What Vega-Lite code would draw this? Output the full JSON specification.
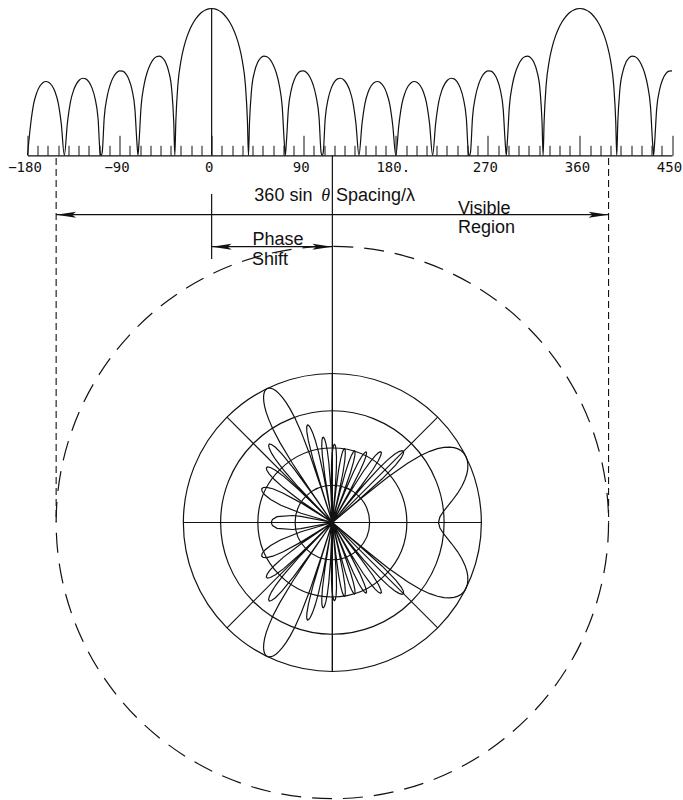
{
"$schema": "https://vega.github.io/schema/vega-lite/v6.json",
"width": 644.5,
"height": 800,
"autosize": {"type": "none"},
"padding": {"left": 27.5, "right": 11, "top": 0, "bottom": 0},
"background": "white",
"config": {"view": {"stroke": null}, "axis": {"grid": false}},
"datasets": {
"af": [
{"p":-180,"db":-40},{"p":-177,"db":-31.74},{"p":-174,"db":-26.01},{"p":-171,"db":-22.98},{"p":-168,"db":-21.2},{"p":-165,"db":-20.23},{"p":-162,"db":-19.89},{"p":-159,"db":-20.15},{"p":-156,"db":-21.06},{"p":-153,"db":-22.77},{"p":-150,"db":-25.72},{"p":-147,"db":-31.38},{"p":-144,"db":-40},
{"p":-141,"db":-31.23},{"p":-138,"db":-25.42},{"p":-135,"db":-22.32},{"p":-132,"db":-20.47},{"p":-129,"db":-19.41},{"p":-126,"db":-19.0},{"p":-123,"db":-19.18},{"p":-120,"db":-20.0},{"p":-117,"db":-21.63},{"p":-114,"db":-24.49},{"p":-111,"db":-30.06},{"p":-109,"db":-39.4},{"p":-108,"db":-40},
{"p":-107,"db":-39.29},{"p":-105,"db":-29.73},{"p":-102,"db":-23.83},{"p":-99,"db":-20.63},{"p":-96,"db":-18.67},{"p":-93,"db":-17.51},{"p":-90,"db":-16.99},{"p":-87,"db":-17.06},{"p":-84,"db":-17.76},{"p":-81,"db":-19.26},{"p":-78,"db":-22.0},{"p":-75,"db":-27.43},{"p":-73,"db":-36.68},{"p":-72,"db":-40},
{"p":-71,"db":-36.47},{"p":-69,"db":-26.8},{"p":-66,"db":-20.74},{"p":-63,"db":-17.37},{"p":-60,"db":-15.23},{"p":-57,"db":-13.87},{"p":-54,"db":-13.14},{"p":-51,"db":-12.98},{"p":-48,"db":-13.44},{"p":-45,"db":-14.67},{"p":-42,"db":-17.11},{"p":-39,"db":-22.21},{"p":-37,"db":-31.22},{"p":-36,"db":-40},
{"p":-35,"db":-30.76},{"p":-33,"db":-20.81},{"p":-30,"db":-14.28},{"p":-27,"db":-10.37},{"p":-24,"db":-7.61},{"p":-21,"db":-5.51},{"p":-18,"db":-3.89},{"p":-15,"db":-2.62},{"p":-12,"db":-1.63},{"p":-9,"db":-0.9},{"p":-6,"db":-0.4},{"p":-3,"db":-0.1},
{"p":0,"db":0},{"p":3,"db":-0.1},{"p":6,"db":-0.4},{"p":9,"db":-0.9},{"p":12,"db":-1.63},{"p":15,"db":-2.62},{"p":18,"db":-3.89},{"p":21,"db":-5.51},{"p":24,"db":-7.61},{"p":27,"db":-10.37},{"p":30,"db":-14.28},{"p":33,"db":-20.81},{"p":35,"db":-30.76},{"p":36,"db":-40},
{"p":37,"db":-31.22},{"p":39,"db":-22.21},{"p":42,"db":-17.11},{"p":45,"db":-14.67},{"p":48,"db":-13.44},{"p":51,"db":-12.98},{"p":54,"db":-13.14},{"p":57,"db":-13.87},{"p":60,"db":-15.23},{"p":63,"db":-17.37},{"p":66,"db":-20.74},{"p":69,"db":-26.8},{"p":71,"db":-36.47},{"p":72,"db":-40},
{"p":73,"db":-36.68},{"p":75,"db":-27.43},{"p":78,"db":-22.0},{"p":81,"db":-19.26},{"p":84,"db":-17.76},{"p":87,"db":-17.06},{"p":90,"db":-16.99},{"p":93,"db":-17.51},{"p":96,"db":-18.67},{"p":99,"db":-20.63},{"p":102,"db":-23.83},{"p":105,"db":-29.73},{"p":107,"db":-39.29},{"p":108,"db":-40},
{"p":109,"db":-39.4},{"p":111,"db":-30.06},{"p":114,"db":-24.49},{"p":117,"db":-21.63},{"p":120,"db":-20.0},{"p":123,"db":-19.18},{"p":126,"db":-19.0},{"p":129,"db":-19.41},{"p":132,"db":-20.47},{"p":135,"db":-22.32},{"p":138,"db":-25.42},{"p":141,"db":-31.23},{"p":144,"db":-40},
{"p":147,"db":-31.38},{"p":150,"db":-25.72},{"p":153,"db":-22.77},{"p":156,"db":-21.06},{"p":159,"db":-20.15},{"p":162,"db":-19.89},{"p":165,"db":-20.23},{"p":168,"db":-21.2},{"p":171,"db":-22.98},{"p":174,"db":-26.01},{"p":177,"db":-31.74},{"p":180,"db":-40},
{"p":183,"db":-31.74},{"p":186,"db":-26.01},{"p":189,"db":-22.98},{"p":192,"db":-21.2},{"p":195,"db":-20.23},{"p":198,"db":-19.89},{"p":201,"db":-20.15},{"p":204,"db":-21.06},{"p":207,"db":-22.77},{"p":210,"db":-25.72},{"p":213,"db":-31.38},{"p":216,"db":-40},
{"p":219,"db":-31.23},{"p":222,"db":-25.42},{"p":225,"db":-22.32},{"p":228,"db":-20.47},{"p":231,"db":-19.41},{"p":234,"db":-19.0},{"p":237,"db":-19.18},{"p":240,"db":-20.0},{"p":243,"db":-21.63},{"p":246,"db":-24.49},{"p":249,"db":-30.06},{"p":251,"db":-39.4},{"p":252,"db":-40},
{"p":253,"db":-39.29},{"p":255,"db":-29.73},{"p":258,"db":-23.83},{"p":261,"db":-20.63},{"p":264,"db":-18.67},{"p":267,"db":-17.51},{"p":270,"db":-16.99},{"p":273,"db":-17.06},{"p":276,"db":-17.76},{"p":279,"db":-19.26},{"p":282,"db":-22.0},{"p":285,"db":-27.43},{"p":287,"db":-36.68},{"p":288,"db":-40},
{"p":289,"db":-36.47},{"p":291,"db":-26.8},{"p":294,"db":-20.74},{"p":297,"db":-17.37},{"p":300,"db":-15.23},{"p":303,"db":-13.87},{"p":306,"db":-13.14},{"p":309,"db":-12.98},{"p":312,"db":-13.44},{"p":315,"db":-14.67},{"p":318,"db":-17.11},{"p":321,"db":-22.21},{"p":323,"db":-31.22},{"p":324,"db":-40},
{"p":325,"db":-30.76},{"p":327,"db":-20.81},{"p":330,"db":-14.28},{"p":333,"db":-10.37},{"p":336,"db":-7.61},{"p":339,"db":-5.51},{"p":342,"db":-3.89},{"p":345,"db":-2.62},{"p":348,"db":-1.63},{"p":351,"db":-0.9},{"p":354,"db":-0.4},{"p":357,"db":-0.1},{"p":360,"db":0},
{"p":363,"db":-0.1},{"p":366,"db":-0.4},{"p":369,"db":-0.9},{"p":372,"db":-1.63},{"p":375,"db":-2.62},{"p":378,"db":-3.89},{"p":381,"db":-5.51},{"p":384,"db":-7.61},{"p":387,"db":-10.37},{"p":390,"db":-14.28},{"p":393,"db":-20.81},{"p":395,"db":-30.76},{"p":396,"db":-40},
{"p":397,"db":-31.22},{"p":399,"db":-22.21},{"p":402,"db":-17.11},{"p":405,"db":-14.67},{"p":408,"db":-13.44},{"p":411,"db":-12.98},{"p":414,"db":-13.14},{"p":417,"db":-13.87},{"p":420,"db":-15.23},{"p":423,"db":-17.37},{"p":426,"db":-20.74},{"p":429,"db":-26.8},{"p":431,"db":-36.47},{"p":432,"db":-40},
{"p":433,"db":-36.68},{"p":435,"db":-27.43},{"p":438,"db":-22.0},{"p":441,"db":-19.26},{"p":444,"db":-17.76},{"p":447,"db":-17.06},{"p":450,"db":-16.99}
],
"polar": [
{"i":1,"x":-16.42,"y":0},{"i":2,"x":-16.07,"y":0.84},{"i":3,"x":-14.84,"y":1.56},{"i":4,"x":-10.65,"y":1.88},{"i":5,"x":-8.46,"y":1.65},{"i":6,"x":0,"y":0},
{"i":7,"x":-8.41,"y":2.48},{"i":8,"x":-13.82,"y":4.63},{"i":9,"x":-16.57,"y":6.17},{"i":10,"x":-18.08,"y":7.38},{"i":11,"x":-18.84,"y":8.32},{"i":12,"x":-18.98,"y":8.99},{"i":13,"x":-18.58,"y":9.39},{"i":14,"x":-17.63,"y":9.44},{"i":15,"x":-15.99,"y":9.05},{"i":16,"x":-13.33,"y":7.93},{"i":17,"x":-8.43,"y":5.27},{"i":18,"x":-0.5,"y":0.32},{"i":19,"x":0,"y":0},
{"i":20,"x":-0.59,"y":0.39},{"i":21,"x":-8.48,"y":5.79},{"i":22,"x":-13.18,"y":9.37},{"i":23,"x":-15.57,"y":11.53},{"i":24,"x":-16.91,"y":13.01},{"i":25,"x":-17.58,"y":14.03},{"i":26,"x":-17.73,"y":14.67},{"i":27,"x":-17.42,"y":14.93},{"i":28,"x":-16.64,"y":14.76},{"i":29,"x":-15.29,"y":14.02},{"i":30,"x":-13.07,"y":12.38},{"i":31,"x":-8.99,"y":8.79},{"i":32,"x":-2.35,"y":2.35},{"i":33,"x":0,"y":0},
{"i":34,"x":-2.47,"y":2.52},{"i":35,"x":-9.14,"y":9.52},{"i":36,"x":-13.13,"y":14.1},{"i":37,"x":-15.17,"y":16.79},{"i":38,"x":-16.33,"y":18.62},{"i":39,"x":-16.94,"y":19.9},{"i":40,"x":-17.11,"y":20.7},{"i":41,"x":-16.91,"y":21.07},{"i":42,"x":-16.33,"y":20.95},{"i":43,"x":-15.29,"y":20.19},{"i":44,"x":-13.56,"y":18.44},{"i":45,"x":-10.34,"y":14.47},{"i":46,"x":-5.04,"y":7.19},{"i":47,"x":0,"y":0},
{"i":48,"x":-5.24,"y":7.61},{"i":49,"x":-10.73,"y":15.91},{"i":50,"x":-14.1,"y":21.51},{"i":51,"x":-15.91,"y":24.99},{"i":52,"x":-17.03,"y":27.55},{"i":53,"x":-17.76,"y":29.57},{"i":54,"x":-18.19,"y":31.19},{"i":55,"x":-18.41,"y":32.53},{"i":56,"x":-18.47,"y":33.63},{"i":57,"x":-18.39,"y":34.5},{"i":58,"x":-18.19,"y":35.18},{"i":59,"x":-17.88,"y":35.67},{"i":60,"x":-17.48,"y":35.98},{"i":61,"x":-16.99,"y":36.1},{"i":62,"x":-16.43,"y":36.03},{"i":63,"x":-15.78,"y":35.77},{"i":64,"x":-15.06,"y":35.29},{"i":65,"x":-14.26,"y":34.55},{"i":66,"x":-13.37,"y":33.54},{"i":67,"x":-12.39,"y":32.19},{"i":68,"x":-11.28,"y":30.36},{"i":69,"x":-9.99,"y":27.9},{"i":70,"x":-8.38,"y":24.32},{"i":71,"x":-6.04,"y":18.21},{"i":72,"x":-2.84,"y":8.79},{"i":73,"x":0,"y":0},
{"i":74,"x":-2.63,"y":8.38},{"i":75,"x":-5.21,"y":17.01},{"i":76,"x":-6.44,"y":21.96},{"i":77,"x":-6.85,"y":24.39},{"i":78,"x":-6.89,"y":25.65},{"i":79,"x":-6.7,"y":26.17},{"i":80,"x":-6.37,"y":26.09},{"i":81,"x":-5.9,"y":25.45},{"i":82,"x":-5.32,"y":24.19},{"i":83,"x":-4.61,"y":22.16},{"i":84,"x":-3.71,"y":18.9},{"i":85,"x":-2.4,"y":12.98},{"i":86,"x":-0.61,"y":3.48},{"i":87,"x":0,"y":0},
{"i":88,"x":-0.55,"y":3.27},{"i":89,"x":-2.0,"y":12.41},{"i":90,"x":-2.67,"y":17.8},{"i":91,"x":-2.84,"y":20.54},{"i":92,"x":-2.8,"y":22.06},{"i":93,"x":-2.63,"y":22.79},{"i":94,"x":-2.39,"y":22.89},{"i":95,"x":-2.08,"y":22.39},{"i":96,"x":-1.74,"y":21.26},{"i":97,"x":-1.36,"y":19.32},{"i":98,"x":-0.96,"y":16.14},{"i":99,"x":-0.49,"y":10.26},{"i":100,"x":-0.03,"y":0.71},{"i":101,"x":0,"y":0},
{"i":102,"x":-0.02,"y":0.6},{"i":103,"x":-0.26,"y":9.94},{"i":104,"x":-0.23,"y":15.51},{"i":105,"x":-0.07,"y":18.37},{"i":106,"x":0.15,"y":20.0},{"i":107,"x":0.39,"y":20.82},{"i":108,"x":0.62,"y":20.99},{"i":109,"x":0.84,"y":20.57},{"i":110,"x":1.01,"y":19.5},{"i":111,"x":1.11,"y":17.64},{"i":112,"x":1.08,"y":14.54},{"i":113,"x":0.75,"y":8.74},{"i":114,"x":0,"y":0},
{"i":115,"x":0.93,"y":8.57},{"i":116,"x":1.69,"y":14.18},{"i":117,"x":2.23,"y":17.08},{"i":118,"x":2.67,"y":18.75},{"i":119,"x":3.01,"y":19.62},{"i":120,"x":3.28,"y":19.84},{"i":121,"x":3.44,"y":19.47},{"i":122,"x":3.48,"y":18.47},{"i":123,"x":3.34,"y":16.69},{"i":124,"x":2.9,"y":13.69},{"i":125,"x":1.8,"y":8.06},{"i":126,"x":0,"y":0},
{"i":127,"x":1.99,"y":8.02},{"i":128,"x":3.52,"y":13.54},{"i":129,"x":4.48,"y":16.42},{"i":130,"x":5.15,"y":18.08},{"i":131,"x":5.64,"y":18.95},{"i":132,"x":5.96,"y":19.21},{"i":133,"x":6.1,"y":18.89},{"i":134,"x":6.03,"y":17.95},{"i":135,"x":5.68,"y":16.27},{"i":136,"x":4.87,"y":13.43},{"i":137,"x":3.03,"y":8.07},{"i":138,"x":0,"y":0},
{"i":139,"x":3.28,"y":8.13},{"i":140,"x":5.62,"y":13.45},{"i":141,"x":7.01,"y":16.23},{"i":142,"x":7.96,"y":17.84},{"i":143,"x":8.62,"y":18.7},{"i":144,"x":9.02,"y":18.96},{"i":145,"x":9.18,"y":18.69},{"i":146,"x":9.04,"y":17.84},{"i":147,"x":8.5,"y":16.28},{"i":148,"x":7.35,"y":13.66},{"i":149,"x":4.82,"y":8.69},{"i":150,"x":0.3,"y":0.52},{"i":151,"x":0,"y":0},
{"i":152,"x":0.36,"y":0.61},{"i":153,"x":5.21,"y":8.85},{"i":154,"x":8.38,"y":13.83},{"i":155,"x":10.26,"y":16.43},{"i":156,"x":11.53,"y":17.94},{"i":157,"x":12.41,"y":18.76},{"i":158,"x":12.95,"y":19.02},{"i":159,"x":13.17,"y":18.78},{"i":160,"x":13.01,"y":18.03},{"i":161,"x":12.37,"y":16.65},{"i":162,"x":10.93,"y":14.3},{"i":163,"x":7.77,"y":9.88},{"i":164,"x":2.08,"y":2.59},{"i":165,"x":0,"y":0},
{"i":166,"x":2.24,"y":2.73},{"i":167,"x":8.46,"y":10.13},{"i":168,"x":12.55,"y":14.61},{"i":169,"x":15.0,"y":16.94},{"i":170,"x":16.7,"y":18.3},{"i":171,"x":17.9,"y":19.03},{"i":172,"x":18.7,"y":19.28},{"i":173,"x":19.11,"y":19.1},{"i":174,"x":19.08,"y":18.47},{"i":175,"x":18.48,"y":17.32},{"i":176,"x":16.96,"y":15.38},{"i":177,"x":13.38,"y":11.73},{"i":178,"x":6.67,"y":5.71},{"i":179,"x":0,"y":0},
{"i":180,"x":7.08,"y":5.93},{"i":181,"x":14.85,"y":12.15},{"i":182,"x":20.2,"y":15.93},{"i":183,"x":23.59,"y":17.92},{"i":184,"x":26.15,"y":19.11},{"i":185,"x":28.23,"y":19.81},{"i":186,"x":29.96,"y":20.16},{"i":187,"x":31.43,"y":20.24},{"i":188,"x":32.69,"y":20.1},{"i":189,"x":33.74,"y":19.76},{"i":190,"x":34.61,"y":19.24},{"i":191,"x":35.32,"y":18.56},{"i":192,"x":35.85,"y":17.74},{"i":193,"x":36.21,"y":16.77},{"i":194,"x":36.37,"y":15.66},{"i":195,"x":36.35,"y":14.41},{"i":196,"x":36.1,"y":13.01},{"i":197,"x":35.58,"y":11.46},{"i":198,"x":34.77,"y":9.74},{"i":199,"x":33.6,"y":7.8},{"i":200,"x":31.98,"y":5.64},{"i":201,"x":29.96,"y":3.15},{"i":202,"x":28.88,"y":1.51},{"i":203,"x":28.49,"y":0}
]
},
"resolve": {"scale": {"x": "independent", "y": "independent", "size": "independent", "shape": "independent"}, "axis": {"x": "independent", "y": "independent"}},
"layer": [
{
"data": {"name": "af"},
"mark": {"type": "line", "interpolate": "monotone", "color": "#111", "strokeWidth": 1.2},
"encoding": {
"x": {"field": "p", "type": "quantitative", "scale": {"domain": [-180, 450], "nice": false, "zero": false},
"axis": {"orient": "top", "offset": -155.3, "values": [-180, -90, 0, 90, 180, 270, 360, 450], "tickSize": 20, "tickColor": "#111", "tickWidth": 1, "domain": true, "domainColor": "#111", "domainWidth": 1.2, "labelFont": "DejaVu Sans Mono", "labelFontSize": 14, "labelColor": "#111", "labelPadding": -32.5, "labelBaseline": "middle", "labelAlign": "center", "labelFlush": false, "labelOverlap": false, "labelOffset": -3, "labelAngle": 0, "labelExpr": "datum.value == 180 ? '180.' : datum.label", "grid": false, "title": null}},
"y": {"field": "db", "type": "quantitative", "scale": {"domain": [-215.67, 2.316], "nice": false, "zero": false}, "axis": null}
}
},
{
"data": {"values": [{}]},
"mark": {"type": "rule", "color": "#111", "strokeWidth": 1.2},
"encoding": {
"x": {"datum": 0, "type": "quantitative", "scale": {"domain": [-180, 450], "nice": false, "zero": false}, "axis": null},
"y": {"datum": 0, "type": "quantitative", "scale": {"domain": [-215.67, 2.316], "nice": false, "zero": false}, "axis": null},
"y2": {"datum": -40}
}
},
{
"data": {"values": [
{"x": 118, "y": 358.86, "x2": 118, "y2": -145.61},
{"x": 0, "y": 321.03, "x2": 0, "y2": 257.51},
{"x": -152, "y": 300.8, "x2": 388, "y2": 300.8},
{"x": 0, "y": 269.53, "x2": 118, "y2": 269.53}
]},
"mark": {"type": "rule", "color": "#111", "strokeWidth": 1.2},
"encoding": {
"x": {"field": "x", "type": "quantitative", "scale": {"domain": [-180, 450], "nice": false, "zero": false},
"axis": {"orient": "top", "offset": -155.3, "values": [-170,-160,-150,-140,-130,-120,-110,-100,-80,-70,-60,-50,-40,-30,-20,-10,10,20,30,40,50,60,70,80,100,110,120,130,140,150,160,170,190,200,210,220,230,240,250,260,280,290,300,310,320,330,340,350,370,380,390,400,410,420,430,440], "tickSize": 10, "tickColor": "#111", "tickWidth": 1, "labels": false, "domain": false, "grid": false, "title": null}},
"y": {"field": "y", "type": "quantitative", "scale": {"domain": [-271.19, 510.62], "nice": false, "zero": false}, "axis": null},
"x2": {"field": "x2"},
"y2": {"field": "y2"}
}
},
{
"data": {"values": [
{"x": -152, "y": 356.2, "x2": -152, "y2": 0},
{"x": 388, "y": 356.2, "x2": 388, "y2": 0}
]},
"mark": {"type": "rule", "color": "#111", "strokeWidth": 1.1, "strokeDash": [7, 4]},
"encoding": {
"x": {"field": "x", "type": "quantitative", "scale": {"domain": [-180, 450], "nice": false, "zero": false}, "axis": null},
"y": {"field": "y", "type": "quantitative", "scale": {"domain": [-271.19, 510.62], "nice": false, "zero": false}, "axis": null},
"x2": {"field": "x2"},
"y2": {"field": "y2"}
}
},
{
"data": {"values": [
{"x": -152, "y": 300.8, "dir": "left"},
{"x": 388, "y": 300.8, "dir": "right"},
{"x": 0, "y": 269.53, "dir": "left"},
{"x": 118, "y": 269.53, "dir": "right"}
]},
"mark": {"type": "point", "filled": true, "size": 100, "color": "#111", "opacity": 1, "strokeWidth": 0},
"encoding": {
"x": {"field": "x", "type": "quantitative", "scale": {"domain": [-180, 450], "nice": false, "zero": false}, "axis": null},
"y": {"field": "y", "type": "quantitative", "scale": {"domain": [-271.19, 510.62], "nice": false, "zero": false}, "axis": null},
"shape": {"field": "dir", "type": "nominal", "scale": {"domain": ["left", "right"], "range": ["M0,0L4,-0.6L3.2,0L4,0.6Z", "M0,0L-4,-0.6L-3.2,0L-4,0.6Z"]}, "legend": null}
}
},
{
"data": {"values": [
{"t": "Spacing/λ", "x": 121.47, "y": 319.3},
{"t": "Visible", "x": 240.7, "y": 306.6},
{"t": "Region", "x": 240.7, "y": 288.0}
]},
"mark": {"type": "text", "align": "left", "baseline": "middle", "font": "Liberation Sans", "fontSize": 18, "color": "#111"},
"encoding": {
"x": {"field": "x", "type": "quantitative", "scale": {"domain": [-180, 450], "nice": false, "zero": false}, "axis": null},
"y": {"field": "y", "type": "quantitative", "scale": {"domain": [-271.19, 510.62], "nice": false, "zero": false}, "axis": null},
"text": {"field": "t"}
}
},
{
"data": {"values": [
{"t": "360 sin", "x": 98.5, "y": 319.3}
]},
"mark": {"type": "text", "align": "right", "baseline": "middle", "font": "Liberation Sans", "fontSize": 18, "color": "#111"},
"encoding": {
"x": {"field": "x", "type": "quantitative", "scale": {"domain": [-180, 450], "nice": false, "zero": false}, "axis": null},
"y": {"field": "y", "type": "quantitative", "scale": {"domain": [-271.19, 510.62], "nice": false, "zero": false}, "axis": null},
"text": {"field": "t"}
}
},
{
"data": {"values": [
{"t": "θ", "x": 111.5, "y": 319.3}
]},
"mark": {"type": "text", "align": "center", "baseline": "middle", "font": "Liberation Serif", "fontStyle": "italic", "fontSize": 18, "color": "#111"},
"encoding": {
"x": {"field": "x", "type": "quantitative", "scale": {"domain": [-180, 450], "nice": false, "zero": false}, "axis": null},
"y": {"field": "y", "type": "quantitative", "scale": {"domain": [-271.19, 510.62], "nice": false, "zero": false}, "axis": null},
"text": {"field": "t"}
}
},
{
"data": {"values": [
{"t": "Phase", "x": 64.8, "y": 276.0},
{"t": "Shift", "x": 56.97, "y": 257.0}
]},
"mark": {"type": "text", "align": "center", "baseline": "middle", "font": "Liberation Sans", "fontSize": 18, "color": "#111"},
"encoding": {
"x": {"field": "x", "type": "quantitative", "scale": {"domain": [-180, 450], "nice": false, "zero": false}, "axis": null},
"y": {"field": "y", "type": "quantitative", "scale": {"domain": [-271.19, 510.62], "nice": false, "zero": false}, "axis": null},
"text": {"field": "t"}
}
},
{
"data": {"values": [{}]},
"mark": {"type": "point", "filled": false, "size": 305150, "color": "#111", "strokeWidth": 1.2, "strokeDash": [20, 11], "opacity": 1},
"encoding": {
"x": {"datum": 118, "type": "quantitative", "scale": {"domain": [-180, 450], "nice": false, "zero": false}, "axis": null},
"y": {"datum": 0, "type": "quantitative", "scale": {"domain": [-271.19, 510.62], "nice": false, "zero": false}, "axis": null}
}
},
{
"data": {"values": [{"r": 10}, {"r": 20}, {"r": 30}, {"r": 40}]},
"mark": {"type": "point", "filled": false, "color": "#111", "strokeWidth": 1.2, "opacity": 1},
"encoding": {
"x": {"datum": 0, "type": "quantitative", "scale": {"domain": [-81.84, 91.18], "nice": false, "zero": false}, "axis": null},
"y": {"datum": 0, "type": "quantitative", "scale": {"domain": [-74.5, 140.27], "nice": false, "zero": false}, "axis": null},
"size": {"field": "r", "type": "quantitative", "scale": {"type": "pow", "exponent": 2, "domain": [0, 40], "range": [0, 88804], "zero": true}, "legend": null}
}
},
{
"data": {"values": [
{"x": -40, "y": 0, "x2": 40, "y2": 0},
{"x": 0, "y": -40, "x2": 0, "y2": 40},
{"x": -28.28, "y": -28.28, "x2": 28.28, "y2": 28.28},
{"x": -28.28, "y": 28.28, "x2": 28.28, "y2": -28.28}
]},
"mark": {"type": "rule", "color": "#111", "strokeWidth": 1.1},
"encoding": {
"x": {"field": "x", "type": "quantitative", "scale": {"domain": [-81.84, 91.18], "nice": false, "zero": false}, "axis": null},
"y": {"field": "y", "type": "quantitative", "scale": {"domain": [-74.5, 140.27], "nice": false, "zero": false}, "axis": null},
"x2": {"field": "x2"},
"y2": {"field": "y2"}
}
},
{
"data": {"name": "polar"},
"mark": {"type": "line", "color": "#111", "strokeWidth": 1.2},
"encoding": {
"x": {"field": "x", "type": "quantitative", "scale": {"domain": [-81.84, 91.18], "nice": false, "zero": false}, "axis": null},
"y": {"field": "y", "type": "quantitative", "scale": {"domain": [-74.5, 140.27], "nice": false, "zero": false}, "axis": null},
"order": {"field": "i", "type": "quantitative"}
}
},
{
"data": {"name": "polar"},
"mark": {"type": "line", "color": "#111", "strokeWidth": 1.2},
"encoding": {
"x": {"field": "x", "type": "quantitative", "scale": {"domain": [-81.84, 91.18], "nice": false, "zero": false}, "axis": null},
"y": {"field": "y", "type": "quantitative", "scale": {"domain": [-140.27, 74.5], "reverse": true, "nice": false, "zero": false}, "axis": null},
"order": {"field": "i", "type": "quantitative"}
}
}
]
}
